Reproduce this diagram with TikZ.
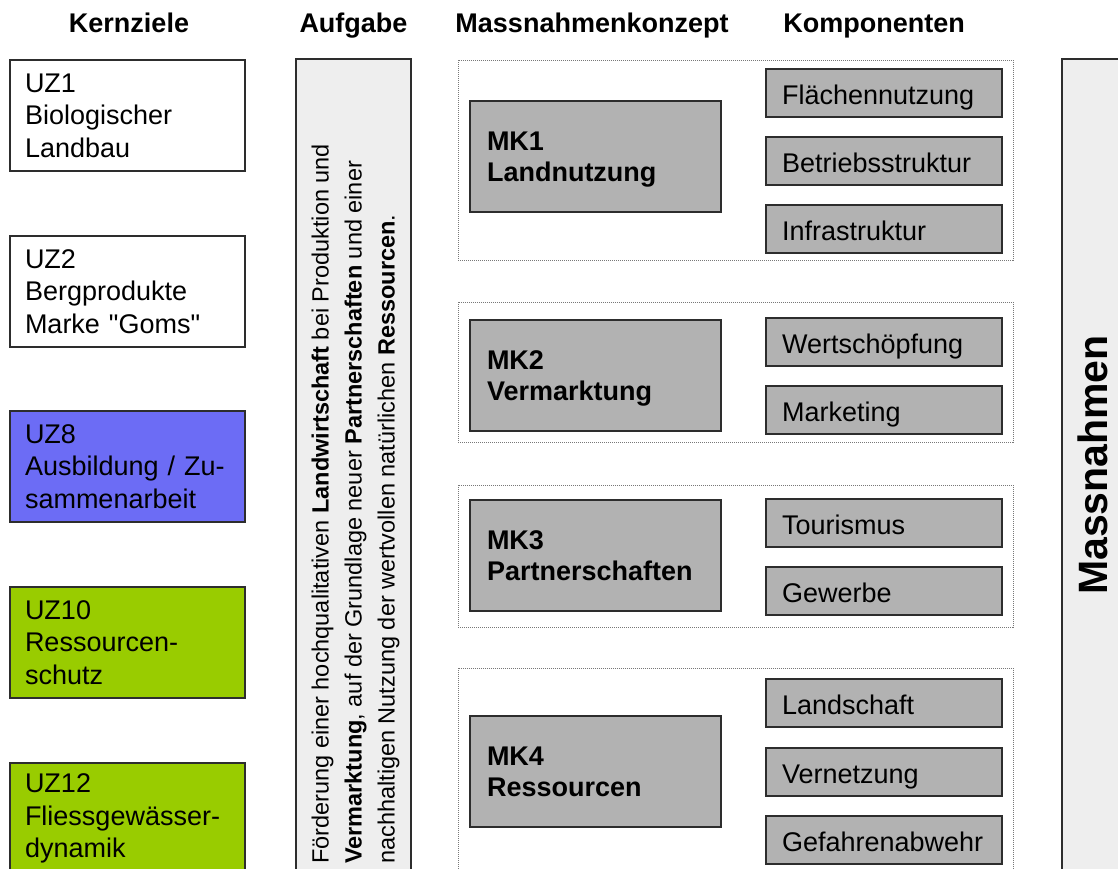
\documentclass[tikz,border=0pt]{standalone}
\usepackage{fontspec}
\setmainfont{Liberation Sans}
% same face without the TeX mapping, for straight quotes
\newfontfamily\rawfont{Liberation Sans}
\definecolor{boxline}{RGB}{45,45,45}
\definecolor{mkgray}{RGB}{178,178,178}
\definecolor{panelgray}{RGB}{238,238,238}
\definecolor{goalblue}{RGB}{108,108,245}
\definecolor{goalgreen}{RGB}{153,204,0}
\definecolor{dotgray}{RGB}{120,120,120}
% two-line concept label with balanced top and bottom
\newcommand\mklabel[2]{\rule{0pt}{25.4pt}#1\\#2\rule[-6pt]{0pt}{6pt}}
\begin{document}
\begin{tikzpicture}[x=1pt,y=-1pt,
  heading/.style={anchor=base, inner sep=0pt, font=\bfseries\fontsize{27}{32}\selectfont},
  goal/.style={draw=boxline, line width=1.4pt, rectangle, inner sep=0pt,
    minimum width=235pt, minimum height=111pt, text width=205pt, align=left,
    font=\fontsize{27}{32.5}\selectfont},
  concept/.style={draw=boxline, fill=mkgray, line width=1.4pt, rectangle, inner sep=0pt,
    minimum width=251pt, minimum height=111pt, text width=217pt, align=left,
    font=\bfseries\fontsize{27}{31}\selectfont},
  comp/.style={draw=boxline, fill=mkgray, line width=1.4pt, rectangle, inner sep=0pt,
    minimum width=236pt, minimum height=48pt, text width=204pt, align=left,
    text height=28pt, text depth=4.6pt,
    font=\fontsize{27}{32}\selectfont},
  group/.style={draw=dotgray, line width=0.8pt, dash pattern=on 1pt off 1pt},
  panel/.style={draw=boxline, fill=panelgray, line width=1.4pt}]
\clip (0,0) rectangle (1118,868);
\fill[white] (0,0) rectangle (1118,868);

% column headings
\node[heading] (hk) at (129,32) {Kernziele};
\node[heading] (ha) at (353.5,32) {Aufgabe};
\node[heading] (hm) at (592,32) {Massnahmenkonzept};
\node[heading] (hc) at (874,32) {Komponenten};

% core goals
\node[goal] (uz1) at (127.5,115.5) {UZ1\\Biologischer\\Landbau};
\node[goal] (uz2) at (127.5,291.5) {UZ2\\Bergprodukte\\Marke {\rawfont"}Goms{\rawfont"}};
\node[goal, fill=goalblue] (uz8) at (127.5,466.5) {UZ8\\Ausbildung / Zu-\\sammenarbeit};
\node[goal, fill=goalgreen] (uz10) at (127.5,642.5) {UZ10\\Ressourcen-\\schutz};
\node[goal, fill=goalgreen] (uz12) at (127.5,818.5) {UZ12\\Fliessgewässer-\\dynamik};

% task column
\draw[panel] (296,59) rectangle (411,900);
\node[rotate=90, anchor=west, inner sep=0pt, align=left,
  font=\fontsize{23.5}{33}\selectfont] (task) at (355.5,864)
  {Förderung einer hochqualitativen \textbf{Landwirtschaft} bei Produktion und\\
   \textbf{Vermarktung}, auf der Grundlage neuer \textbf{Partnerschaften} und einer\\
   nachhaltigen Nutzung der wertvollen natürlichen \textbf{Ressourcen}.};

% measures panel
\draw[panel] (1062,59) rectangle (1140,900);
\node[rotate=90, inner sep=0pt, font=\bfseries\fontsize{41}{48}\selectfont] (mn) at (1093,465) {Massnahmen};

% concept groups
\draw[group] (458,60) rectangle (1013,260);
\draw[group] (458,302) rectangle (1013,442);
\draw[group] (458,485) rectangle (1013,627);
\draw[group] (458,668) rectangle (1013,890);

\node[concept] (mk1) at (595.5,156.5) {\mklabel{MK1}{Landnutzung}};
\node[concept] (mk2) at (595.5,375.5) {\mklabel{MK2}{Vermarktung}};
\node[concept] (mk3) at (595.5,555.5) {\mklabel{MK3}{Partnerschaften}};
\node[concept] (mk4) at (595.5,771.5) {\mklabel{MK4}{Ressourcen}};

% components
\node[comp] (c11) at (884,93) {Flächennutzung};
\node[comp] (c12) at (884,161) {Betriebsstruktur};
\node[comp] (c13) at (884,229) {Infrastruktur};
\node[comp] (c21) at (884,342) {Wertschöpfung};
\node[comp] (c22) at (884,410) {Marketing};
\node[comp] (c31) at (884,523) {Tourismus};
\node[comp] (c32) at (884,591) {Gewerbe};
\node[comp] (c41) at (884,703) {Landschaft};
\node[comp] (c42) at (884,772) {Vernetzung};
\node[comp] (c43) at (884,840) {Gefahrenabwehr};
\end{tikzpicture}
\end{document}
